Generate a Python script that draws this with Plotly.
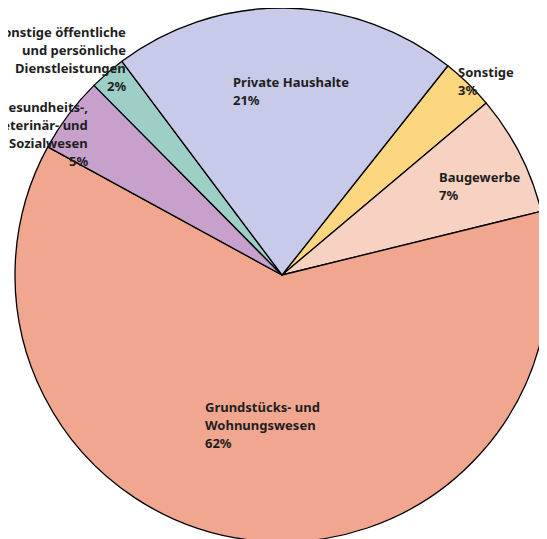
import plotly.graph_objects as go

# Anteile nach Wirtschaftszweig (Prozent), im Uhrzeigersinn ab "Sonstige"
labels = [
    "Sonstige",
    "Baugewerbe",
    "Grundstücks- und Wohnungswesen",
    "Gesundheits-, Veterinär- und Sozialwesen",
    "Sonstige öffentliche und persönliche Dienstleistungen",
    "Private Haushalte",
]
values = [3.2, 7.3, 61.8, 4.6, 2.2, 20.9]
colors = ["#FDD780", "#F7D1C1", "#F1A68F", "#C8A0CC", "#9ECFC7", "#C7CAE8"]

# Beschriftungszeilen (wie im Original umbrochen)
label_lines = [
    ["Sonstige"],
    ["Baugewerbe"],
    ["Grundstücks- und", "Wohnungswesen"],
    ["Gesundheits-,", "Veterinär- und", "Sozialwesen"],
    ["Sonstige öffentliche", "und persönliche", "Dienstleistungen"],
    ["Private Haushalte"],
]

W, H = 547, 539
LINE = 18  # Zeilenabstand in Pixel

fig = go.Figure()
fig.add_trace(go.Pie(
    labels=labels,
    values=values,
    sort=False,
    direction="clockwise",
    rotation=38.4,
    marker=dict(colors=colors, line=dict(color="black", width=1.3)),
    textinfo="none",
    hoverinfo="label+percent",
    showlegend=False,
    domain=dict(x=[7 / W, 541 / W], y=[1 - 534 / H, 1]),
))

# Position der ersten Zeile (Pixel) und Ausrichtung der Beschriftungen
label_pos = [
    (448, 64, "left"),
    (429, 169, "left"),
    (195, 399, "left"),
    (82, 99, "right"),
    (120, 24, "right"),
    (223, 74, "left"),
]

total = sum(values)
for lines, v, (px, py, side) in zip(label_lines, values, label_pos):
    rows = lines + [f"{round(v / total * 100)}%"]
    for i, row in enumerate(rows):
        fig.add_annotation(
            x=px / W, y=1 - (py + i * LINE) / H, xref="paper", yref="paper",
            xanchor=side, yanchor="middle", align=side,
            text=row, showarrow=False,
            font=dict(family="Noto Sans", size=13, color="#1E1E1E", weight="bold"),
        )

fig.update_layout(
    width=W, height=H,
    margin=dict(l=0, r=0, t=0, b=0),
    paper_bgcolor="white",
    plot_bgcolor="white",
)

fig.write_html("out.html")
